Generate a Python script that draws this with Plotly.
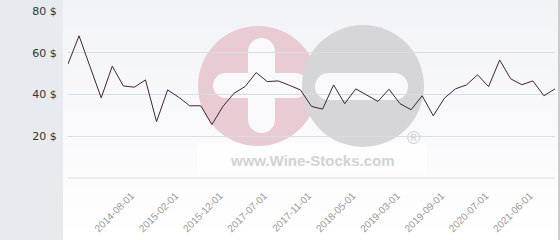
import plotly.graph_objects as go

dates = [
    "2013-10-01", "2013-11-01", "2014-01-01", "2014-03-01", "2014-05-01", "2014-06-01",
    "2014-08-01", "2014-09-01", "2014-11-01", "2014-12-01", "2015-02-01",
    "2015-04-01", "2015-06-01", "2015-09-01", "2015-12-01",
    "2016-04-01", "2016-09-01", "2017-02-01", "2017-07-01",
    "2017-08-01", "2017-09-01", "2017-10-01", "2017-11-01",
    "2017-12-01", "2018-02-01", "2018-03-01", "2018-05-01",
    "2018-07-01", "2018-10-01", "2018-12-01", "2019-03-01",
    "2019-04-01", "2019-06-01", "2019-07-01", "2019-09-01",
    "2019-11-01", "2020-01-01", "2020-04-01", "2020-07-01",
    "2020-09-01", "2020-12-01", "2021-03-01", "2021-06-01",
    "2021-08-01", "2021-10-01",
]
prices = [
    54.6, 68.1, 53.2, 38.4, 53.6, 44.1, 43.5, 47.0, 27.0, 42.2,
    38.7, 34.6, 34.6, 25.6, 34.3, 40.6, 43.8, 50.5, 46.2, 46.5,
    44.4, 42.2, 34.3, 33.0, 44.6, 35.6, 42.7, 39.5, 36.7, 42.5,
    35.6, 32.7, 39.4, 29.8, 38.2, 42.7, 44.6, 49.4, 43.8, 56.5,
    47.5, 44.7, 46.5, 39.4, 42.7,
]
tick_dates = ["2014-08-01", "2015-02-01", "2015-12-01", "2017-07-01", "2017-11-01",
              "2018-05-01", "2019-03-01", "2019-09-01", "2020-07-01", "2021-06-01"]
y_ticks = [20, 40, 60, 80]
y_ticktext = ["20 $", "40 $", "60 $", "80 $"]

W, H = 560, 240
ML, MR, MT, MB = 68, 5, 11, 62
PW = W - ML - MR
PH = H - MT - MB


def px(x):
    return (x - ML) / PW


def py(y):
    return (H - MB - y) / PH


shapes = []
# left panel
shapes.append(dict(type="rect", xref="paper", yref="paper", x0=px(0), x1=px(63),
                   y0=py(240), y1=py(0), fillcolor="#e7ebef", line_width=0, layer="below"))
# gradient panel
n = 24
c0 = (242, 243, 248)
c1 = (255, 255, 255)
for i in range(n):
    t = i / (n - 1)
    col = tuple(round(c0[k] + (c1[k] - c0[k]) * t) for k in range(3))
    shapes.append(dict(type="rect", xref="paper", yref="paper",
                       x0=px(63), x1=px(559), y0=py(240 * (i + 1) / n + 0.5), y1=py(240 * i / n),
                       fillcolor="rgb(%d,%d,%d)" % col, line_width=0, layer="below"))


def circ(cx, cy, r, color):
    return dict(type="circle", xref="paper", yref="paper", x0=px(cx - r), x1=px(cx + r),
                y0=py(cy + r), y1=py(cy - r), fillcolor=color, line_width=0, layer="below")


def rrect(x0, x1, y0, y1, color):
    w, h = x1 - x0, y1 - y0
    if w >= h:
        r = h / 2
        return [dict(type="rect", xref="paper", yref="paper", x0=px(x0 + r), x1=px(x1 - r),
                     y0=py(y1), y1=py(y0), fillcolor=color, line_width=0, layer="below"),
                circ(x0 + r, (y0 + y1) / 2, r, color), circ(x1 - r, (y0 + y1) / 2, r, color)]
    r = w / 2
    return [dict(type="rect", xref="paper", yref="paper", x0=px(x0), x1=px(x1),
                 y0=py(y1 - r), y1=py(y0 + r), fillcolor=color, line_width=0, layer="below"),
            circ((x0 + x1) / 2, y0 + r, r, color), circ((x0 + x1) / 2, y1 - r, r, color)]


pink = "#e9cbd3"
grey = "#d6d6d9"
white = "#f9f9fb"
# white box behind text
shapes.append(dict(type="rect", xref="paper", yref="paper", x0=px(197), x1=px(427),
                   y0=py(173), y1=py(143), fillcolor="rgba(255,255,255,0.7)", line_width=0, layer="below"))
shapes.append(circ(258, 86, 60, pink))
shapes += rrect(248, 275, 38, 133, white)
shapes += rrect(213, 308, 73, 98, white)
shapes.append(circ(363, 86, 61, grey))
shapes += rrect(315, 408, 73, 100, white)
# bottom grid line
shapes.append(dict(type="line", xref="paper", yref="paper", x0=0, x1=1, y0=0, y1=0,
                   line=dict(color="#dcdde3", width=1), layer="below"))
# right border
shapes.append(dict(type="line", xref="paper", yref="paper", x0=px(559), x1=px(559),
                   y0=py(240), y1=py(0), line=dict(color="#9a9a9a", width=1), layer="below"))

fig = go.Figure()
fig.add_trace(go.Scatter(x=dates, y=prices, mode="lines",
                         line=dict(color="#3d2433", width=1), hoverinfo="skip"))

fig.update_layout(
    width=W, height=H,
    margin=dict(l=ML, r=MR, t=MT, b=MB, pad=0, autoexpand=False),
    paper_bgcolor="#ffffff",
    plot_bgcolor="rgba(0,0,0,0)",
    showlegend=False,
    shapes=shapes,
    annotations=[
        dict(text="<b>www.Wine-Stocks.com</b>", xref="paper", yref="paper", x=px(312), y=py(160),
             showarrow=False, font=dict(family="Liberation Sans, Arial", size=15, color="#d2d2d6"),
             xanchor="center", yanchor="middle"),
        dict(text="®", xref="paper", yref="paper", x=px(413), y=py(138),
             showarrow=False, font=dict(family="Liberation Sans, Arial", size=18, color="#d2d2d6"),
             xanchor="center", yanchor="middle"),
    ],
    xaxis=dict(type="category", range=[0, len(dates) - 1], tickmode="array", tickvals=tick_dates,
               ticktext=tick_dates, tickangle=-45, showgrid=False, zeroline=False, showline=False,
               automargin=False,
               ticks="outside", ticklen=7, tickcolor="rgba(0,0,0,0)", ticklabelshift=-3,
               tickfont=dict(family="Liberation Sans, Arial", size=10, color="#999999")),
    yaxis=dict(range=[0, 80], tickmode="array", tickvals=y_ticks, ticktext=y_ticktext,
               showgrid=True, gridcolor="#dcdde3", gridwidth=1, zeroline=False, showline=False,
               automargin=False,
               ticks="outside", ticklen=8, tickcolor="rgba(0,0,0,0)",
               tickfont=dict(family="DejaVu Sans", size=11, color="#333333")),
)

fig.write_html("out.html")
